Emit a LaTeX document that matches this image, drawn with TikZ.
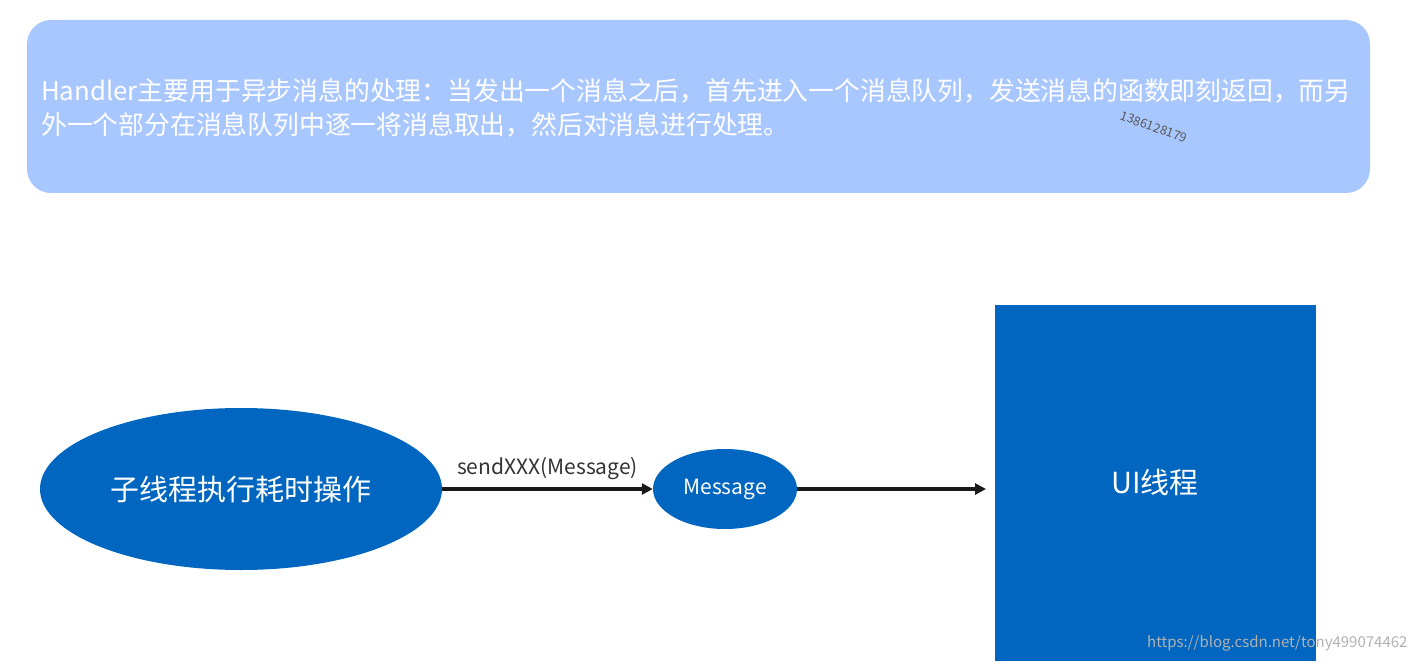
\documentclass[tikz,border=0pt]{standalone}
\usepackage{fontspec}
\setmainfont{Noto Sans CJK SC}
\usetikzlibrary{arrows.meta,shapes.geometric}
\definecolor{topblue}{RGB}{169,199,255}
\definecolor{darkblue}{RGB}{0,102,192}
\tikzset{
  flowarrow/.style={line width=3.5pt,-{Triangle[length=11pt,width=11pt]},black!90},
  wtext/.style={text=white,inner sep=0pt}
}
\begin{document}
\begin{tikzpicture}[x=1pt,y=-1pt]
\useasboundingbox (0,0) rectangle (1418,663);
\fill[white] (0,0) rectangle (1418,663);
\fill[topblue,rounded corners=24pt] (27,20) rectangle (1370,193);
\node[wtext,anchor=north west,align=left,font=\fontsize{25.8}{34}\selectfont] (desc) at (41,78)
 {Handler主要用于异步消息的处理：当发出一个消息之后，首先进入一个消息队列，发送消息的函数即刻返回，而另\\外一个部分在消息队列中逐一将消息取出，然后对消息进行处理。};
\node[text=gray!70!black,rotate=-20,inner sep=0pt,font=\fontsize{12.5}{13}\selectfont] (wm) at (1154,127) {1386128179};
\node[ellipse,fill=darkblue,minimum width=402,minimum height=162,inner sep=0pt,text=white,font=\fontsize{29}{32}\selectfont] (sub) at (241,489) {子线程执行耗时操作};
\node[ellipse,fill=darkblue,minimum width=144,minimum height=80,inner sep=0pt,text=white,font=\fontsize{21}{24}\selectfont] (msg) at (725,489) {Message};
\node[fill=darkblue,minimum width=321,minimum height=356,inner sep=0pt,anchor=north west] (ui) at (995,305) {};
\node[text=white,font=\fontsize{29}{32}\selectfont] (uit) at (1155,482) {UI线程};
\draw[flowarrow] (sub.east) -- (msg.west) node[midway,above=4pt,text=black!80,font=\fontsize{21}{24}\selectfont] (lbl) {sendXXX(Message)};
\coordinate (uiin) at (986,489);
\draw[flowarrow] (msg.east) -- (uiin);
\node[anchor=east,text=gray!60,font=\fontsize{15}{16}\selectfont] (url) at (1411,643) {https://blog.csdn.net/tony499074462};
\end{tikzpicture}
\end{document}
